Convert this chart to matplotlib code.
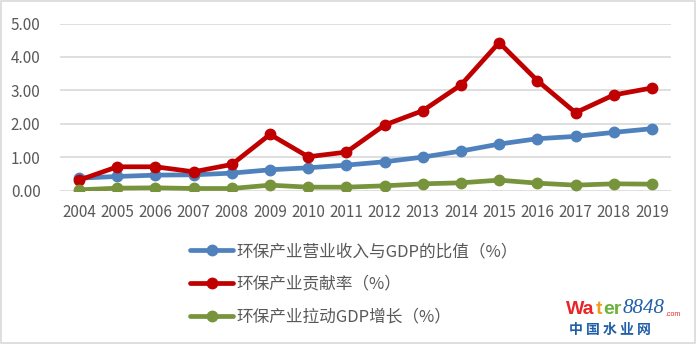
import numpy as np
import matplotlib.pyplot as plt
from matplotlib.patches import Rectangle

plt.rcParams['font.family'] = ['Noto Sans CJK SC', 'DejaVu Sans']

years = ['2004', '2005', '2006', '2007', '2008', '2009', '2010', '2011',
         '2012', '2013', '2014', '2015', '2016', '2017', '2018', '2019']
revenue_ratio = [0.37, 0.42, 0.46, 0.47, 0.52, 0.62, 0.68, 0.76,
                 0.86, 1.00, 1.18, 1.39, 1.55, 1.62, 1.74, 1.85]
contribution = [0.31, 0.71, 0.71, 0.56, 0.78, 1.68, 1.01, 1.15,
                1.96, 2.39, 3.16, 4.43, 3.29, 2.33, 2.86, 3.07]
gdp_pull = [0.02, 0.07, 0.08, 0.06, 0.06, 0.16, 0.10, 0.10,
            0.14, 0.20, 0.23, 0.31, 0.22, 0.16, 0.20, 0.19]
labels = ['环保产业营业收入与GDP的比值（%）', '环保产业贡献率（%）', '环保产业拉动GDP增长（%）']
colors = ['#4f81bd', '#c00000', '#77933c']

fig = plt.figure(figsize=(6.96, 3.44), dpi=100)
fig.add_artist(Rectangle((0.001, 0.002), 0.997, 0.995, transform=fig.transFigure,
                         fill=False, edgecolor='#d9d9d9', linewidth=1.2))
ax = fig.add_axes([60 / 696, (344 - 190.5) / 344, 611 / 696, 167 / 344])

x = np.arange(len(years))
lines = []
for vals, c, lab in zip([revenue_ratio, contribution, gdp_pull], colors, labels):
    ln, = ax.plot(x, vals, color=c, linewidth=3.4, marker='o', markersize=7.5,
                  label=lab, solid_capstyle='round', zorder=3)
    lines.append(ln)

ax.set_xlim(-0.5, len(years) - 0.5)
ax.set_ylim(0, 5)
ax.set_yticks(np.arange(0, 5.01, 1))
ax.set_yticklabels(['%.2f' % v for v in np.arange(0, 5.01, 1)])
ax.set_xticks(x)
ax.set_xticklabels(years)
ax.grid(axis='y', color='#d9d9d9', linewidth=1.2, zorder=0)
for s in ax.spines.values():
    s.set_visible(False)
ax.tick_params(length=0, labelsize=11, labelcolor='#595959')
ax.tick_params(axis='y', pad=14)
ax.tick_params(axis='x', pad=10)

fig.legend(handles=lines, loc='upper left', bbox_to_anchor=(190 / 696, 1 - 243 / 344),
           frameon=False, fontsize=12, labelcolor='#595959', handlelength=2.6,
           handletextpad=0.2, labelspacing=0.95, borderpad=0, borderaxespad=0)

# watermark logo: each piece placed just right of the previous one
prev = fig.text(566 / 696, 1 - 314 / 344, 'Wa', color='#e8262a', fontsize=14,
                fontweight='bold', family='Liberation Sans')
pieces = [
    ('t', '#f29b1d', dict(fontweight='bold', family='Liberation Sans', fontsize=14)),
    ('er', '#6cb33e', dict(fontweight='bold', family='Liberation Sans', fontsize=14)),
    ('8848', '#1f5fa8', dict(style='italic', family='Liberation Serif', fontsize=15)),
    ('.com', '#e8262a', dict(family='Liberation Sans', fontsize=5)),
]
for txt, col, kw in pieces:
    prev = ax.annotate(txt, xy=(1, 0), xycoords=prev, xytext=(1, 0),
                       textcoords='offset pixels', va='bottom', color=col,
                       annotation_clip=False, **kw)
fig.text(569 / 696, 1 - 334 / 344, '中 国 水 业 网', color='#1f5fa8', fontsize=10,
         fontweight='bold')

fig.savefig('out.png', dpi=100)
